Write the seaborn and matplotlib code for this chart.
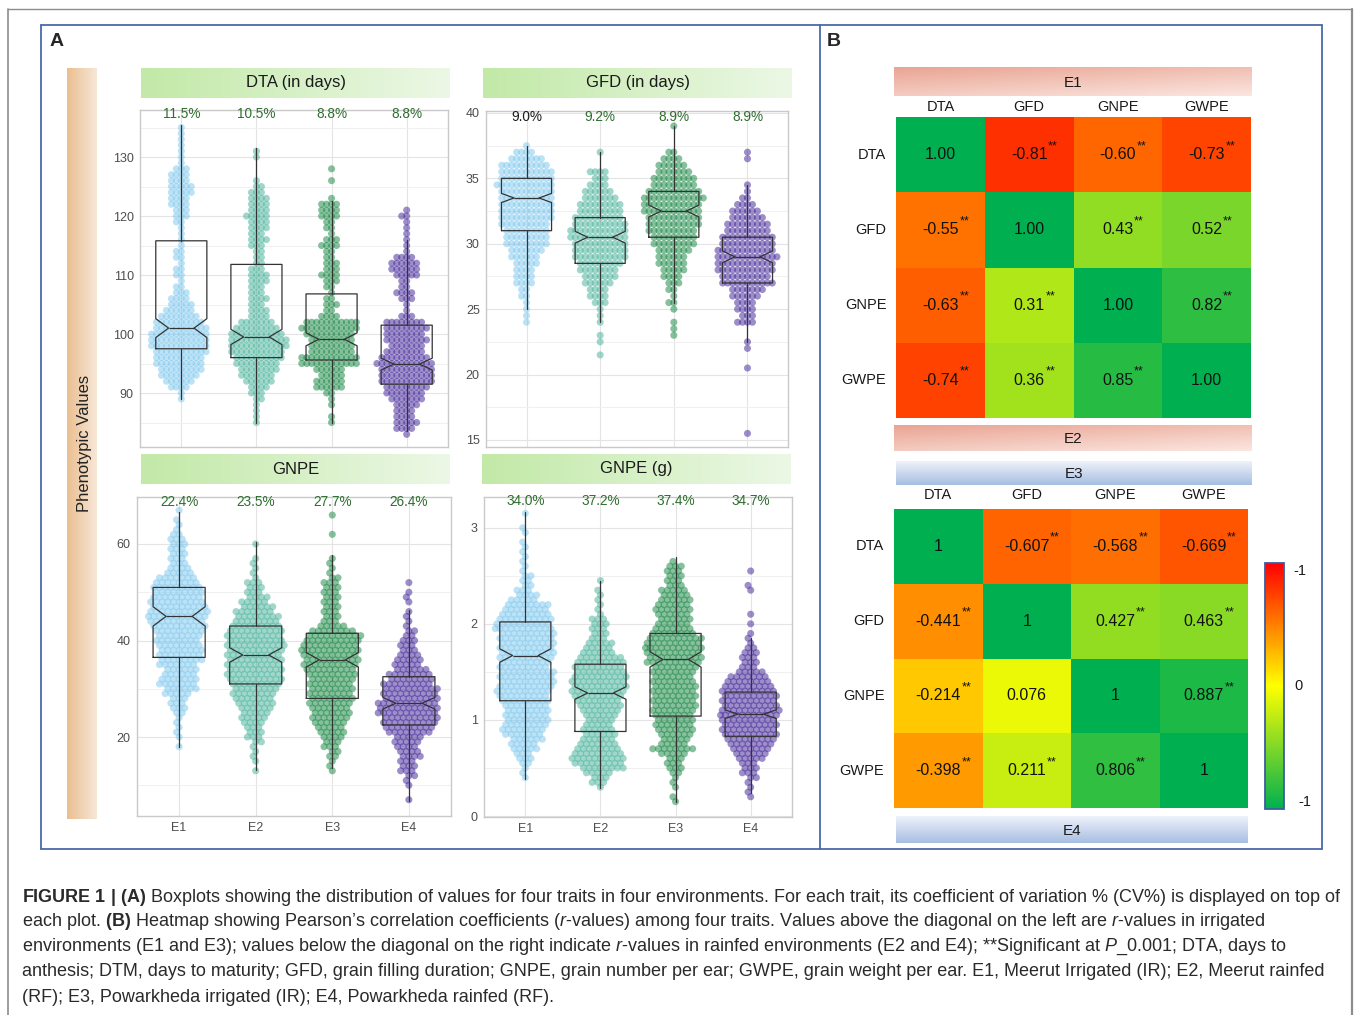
import numpy as np
import pandas as pd
import matplotlib
matplotlib.use("Agg")
import matplotlib.pyplot as plt
import seaborn as sns
from matplotlib.colors import LinearSegmentedColormap, Normalize
from matplotlib.ticker import MultipleLocator, FixedLocator
from matplotlib.lines import Line2D
from matplotlib.cm import ScalarMappable
import matplotlib.transforms as mtransforms

# ------------------------------------------------------------------ data
envs = ["E1", "E2", "E3", "E4"]
traits = ["DTA", "GFD", "GNPE", "GWPE"]

# DTA (days): number of genotypes at each day, starting at dta_start
dta_start = [89, 85, 85, 83]
dta_e1 = [1, 1, 4, 6, 8, 9, 10, 10, 11, 12, 12, 12, 11, 10, 8, 6, 5, 4, 3, 2,
          1, 2, 2, 1, 2, 2, 1, 1, 1, 1, 2, 3, 3, 4, 4, 5, 5, 4, 4, 3, 1, 1, 1, 1, 1, 1, 1]
dta_e2 = [1, 1, 1, 1, 2, 3, 4, 6, 7, 8, 9, 10, 11, 12, 12, 11, 9, 7, 4, 4,
          3, 4, 3, 3, 4, 4, 3, 2, 2, 2, 3, 4, 3, 4, 4, 5, 4, 4, 4, 3, 2, 1, 0, 0, 0, 1, 1]
dta_e3 = [1, 1, 0, 1, 1, 2, 6, 6, 5, 6, 12, 12, 9, 9, 9, 10, 12, 11, 4, 2,
          3, 2, 1, 2, 3, 4, 3, 3, 2, 2, 4, 3, 1, 2, 2, 4, 4, 4, 1, 0, 0, 1, 0, 1]
dta_e4 = [1, 4, 5, 4, 4, 5, 7, 8, 9, 11, 11, 11, 12, 10, 8, 7, 9, 8, 9, 8,
          3, 1, 1, 3, 4, 2, 2, 5, 6, 6, 4, 1, 1, 1, 1, 1, 1, 2, 1]

# GFD (days, 0.5-day steps)
gfd_start = [24.0, 21.5, 23.0, 15.5]
gfd_e1 = [1, 1, 1, 1, 2, 2, 4, 4, 4, 5, 6, 7, 9, 9, 9, 10, 11, 11, 11, 11,
          11, 12, 11, 11, 10, 7, 4, 1]
gfd_e2 = [1, 0, 1, 1, 0, 1, 1, 1, 3, 4, 4, 6, 7, 8, 9, 11, 11, 11, 12, 12,
          11, 10, 9, 9, 7, 6, 4, 3, 4, 0, 0, 1]
gfd_e3 = [1, 1, 1, 0, 1, 2, 1, 2, 3, 4, 5, 6, 6, 7, 9, 9, 10, 11, 11, 12,
          12, 13, 11, 9, 9, 7, 6, 4, 2, 0, 0, 0, 1]
gfd_e4 = [1, 0, 0, 0, 0, 0, 0, 0, 0, 0, 1, 0, 0, 1, 1, 0, 0, 4, 3, 4,
          4, 6, 7, 11, 10, 12, 12, 13, 12, 11, 11, 9, 9, 7, 6, 4, 2, 1, 1, 0,
          0, 0, 1, 1]

# GNPE (grains per ear, 1-grain steps)
gnpe_start = [18, 13, 13, 7]
gnpe_e1 = [1, 0, 1, 1, 1, 1, 1, 2, 3, 3, 3, 5, 6, 7, 7, 6, 6, 7, 8, 8,
           8, 8, 8, 8, 9, 10, 10, 11, 11, 10, 10, 9, 9, 9, 8, 7, 5, 4, 3, 3,
           3, 3, 3, 3, 2, 1, 1, 1, 0, 1]
gnpe_e2 = [1, 0, 1, 1, 1, 1, 2, 3, 3, 3, 4, 5, 5, 6, 7, 7, 8, 8, 9, 10,
           10, 10, 10, 10, 10, 10, 11, 10, 10, 10, 9, 8, 8, 7, 6, 5, 4, 3, 3, 3,
           1, 1, 1, 1, 1, 0, 0, 1]
gnpe_e3 = [1, 1, 1, 2, 2, 3, 3, 4, 5, 5, 6, 7, 7, 7, 8, 8, 8, 8, 8, 8,
           9, 9, 10, 10, 10, 11, 10, 10, 10, 8, 5, 3, 3, 3, 3, 3, 3, 3, 3, 3,
           2, 1, 1, 1, 1, 0, 0, 0, 0, 1, 0, 0, 0, 1]
gnpe_e4 = [1, 0, 0, 1, 1, 2, 3, 3, 3, 4, 4, 4, 5, 5, 8, 9, 10, 10, 11, 11,
           11, 10, 10, 10, 9, 8, 8, 6, 5, 5, 4, 3, 3, 3, 2, 2, 1, 1, 1, 1,
           0, 1, 1, 1, 0, 1]

# GWPE (g per ear, 0.05 g steps)
gwpe_start = [0.40, 0.30, 0.15, 0.20]
gwpe_e1 = [1, 1, 1, 2, 3, 3, 5, 5, 6, 7, 8, 8, 8, 8, 8, 8, 9, 9, 10, 10,
           10, 10, 10, 9, 9, 10, 10, 10, 10, 10, 10, 11, 10, 10, 9, 8, 8, 5, 4, 3,
           2, 2, 2, 1, 1, 1, 1, 1, 1, 1, 0, 1, 1, 0, 0, 1]
gwpe_e2 = [1, 3, 3, 5, 8, 9, 10, 9, 8, 7, 6, 6, 6, 5, 5, 6, 7, 8, 8, 9,
           10, 10, 10, 10, 9, 9, 9, 8, 6, 5, 5, 3, 3, 3, 3, 3, 1, 1, 1, 1,
           1, 1, 0, 1]
gwpe_e3 = [1, 1, 0, 1, 1, 1, 2, 3, 3, 3, 5, 8, 5, 5, 6, 7, 7, 7, 7, 8,
           8, 8, 8, 8, 8, 8, 7, 8, 8, 10, 10, 10, 11, 10, 10, 8, 7, 6, 6, 6,
           7, 6, 6, 5, 5, 3, 3, 3, 3, 3, 1]
gwpe_e4 = [1, 1, 1, 1, 2, 3, 3, 3, 5, 6, 7, 8, 9, 10, 10, 10, 10, 11, 11, 10,
           10, 10, 10, 9, 8, 7, 5, 3, 3, 3, 3, 2, 1, 1, 1, 0, 1, 0, 1, 0,
           0, 0, 0, 1, 1, 0, 0, 1]

# box statistics
dta_q1 = [97.5, 96.0, 95.6, 91.5]
dta_med = [101.0, 99.5, 99.1, 94.9]
dta_q3 = [115.8, 111.8, 106.8, 101.5]
dta_lo = [89.0, 85.0, 85.0, 83.5]
dta_hi = [135.5, 131.5, 122.5, 116.0]
dta_notch = [1.6, 1.3, 1.1, 1.0]

gfd_q1 = [31.0, 28.5, 30.5, 27.0]
gfd_med = [33.5, 30.5, 32.5, 29.0]
gfd_q3 = [35.0, 32.0, 34.0, 30.5]
gfd_lo = [25.0, 24.0, 25.5, 22.5]
gfd_hi = [37.5, 37.0, 39.0, 34.5]
gfd_notch = [0.35, 0.45, 0.45, 0.45]

gnpe_q1 = [36.5, 31.0, 28.0, 22.5]
gnpe_med = [45.0, 37.0, 36.0, 27.0]
gnpe_q3 = [51.0, 43.0, 41.5, 32.5]
gnpe_lo = [18.0, 13.2, 13.6, 6.8]
gnpe_hi = [66.6, 60.4, 57.7, 46.3]
gnpe_notch = [2.0, 1.5, 1.5, 1.2]

gwpe_q1 = [1.20, 0.88, 1.04, 0.83]
gwpe_med = [1.67, 1.28, 1.63, 1.06]
gwpe_q3 = [2.02, 1.58, 1.90, 1.29]
gwpe_lo = [0.39, 0.29, 0.15, 0.24]
gwpe_hi = [3.16, 2.45, 2.70, 1.85]
gwpe_notch = [0.07, 0.065, 0.08, 0.045]

dta_cv = ["11.5%", "10.5%", "8.8%", "8.8%"]
gfd_cv = ["9.0%", "9.2%", "8.9%", "8.9%"]
gnpe_cv = ["22.4%", "23.5%", "27.7%", "26.4%"]
gwpe_cv = ["34.0%", "37.2%", "37.4%", "34.7%"]

# correlation matrices (rows/cols: DTA, GFD, GNPE, GWPE)
r_e1e2 = [[1.00, -0.81, -0.60, -0.73],
          [-0.55, 1.00, 0.43, 0.52],
          [-0.63, 0.31, 1.00, 0.82],
          [-0.74, 0.36, 0.85, 1.00]]
sig_e1e2 = [[0, 1, 1, 1], [1, 0, 1, 1], [1, 1, 0, 1], [1, 1, 1, 0]]
r_e3e4 = [[1, -0.607, -0.568, -0.669],
          [-0.441, 1, 0.427, 0.463],
          [-0.214, 0.076, 1, 0.887],
          [-0.398, 0.211, 0.806, 1]]
sig_e3e4 = [[0, 1, 1, 1], [1, 0, 1, 1], [1, 0, 0, 1], [1, 1, 1, 0]]

caption_lines = [
    r"$\mathbf{FIGURE\ 1\ |\ (A)}$ Boxplots showing the distribution of values for four traits in four environments. For each trait, its coefficient of variation % (CV%) is displayed on top of",
    r"each plot. $\mathbf{(B)}$ Heatmap showing Pearson’s correlation coefficients ($\mathit{r}$-values) among four traits. Values above the diagonal on the left are $\mathit{r}$-values in irrigated",
    r"environments (E1 and E3); values below the diagonal on the right indicate $\mathit{r}$-values in rainfed environments (E2 and E4); **Significant at $\mathit{P}$_0.001; DTA, days to",
    r"anthesis; DTM, days to maturity; GFD, grain filling duration; GNPE, grain number per ear; GWPE, grain weight per ear. E1, Meerut Irrigated (IR); E2, Meerut rainfed",
    r"(RF); E3, Powarkheda irrigated (IR); E4, Powarkheda rainfed (RF).",
]

# ------------------------------------------------------------------ style
sns.set_theme(style="white")
plt.rcParams['font.family'] = ['Liberation Sans', 'DejaVu Sans']
plt.rcParams['mathtext.fontset'] = 'custom'
plt.rcParams['mathtext.rm'] = 'Liberation Sans'
plt.rcParams['mathtext.it'] = 'Liberation Sans:italic'
plt.rcParams['mathtext.bf'] = 'Liberation Sans:bold'

W, H = 1358, 1015
fig = plt.figure(figsize=(W / 100, H / 100), dpi=100)
fig.patch.set_facecolor('white')


def rect(l, t, r, b):
    return [l / W, 1 - b / H, (r - l) / W, (b - t) / H]


def fx(x):
    return x / W


def fy(y):
    return 1 - y / H


point_colors = ["#7bc6ee", "#44b199", "#0f823c", "#3c1f94"]
box_col = "#333333"


def long_df(starts, step, count_lists):
    parts = []
    for env, s, cnt in zip(envs, starts, count_lists):
        vals = np.round(s + step * np.arange(len(cnt)), 3)
        parts.append(pd.DataFrame({"env": env, "value": np.repeat(vals, cnt)}))
    return pd.concat(parts, ignore_index=True)


def gradient_axes(r, c0, c1, mode="h"):
    a = fig.add_axes(rect(*r))
    cm = LinearSegmentedColormap.from_list("g", [c0, c1])
    yy, xx = np.mgrid[0:1:64j, 0:1:256j]
    if mode == "h":
        g = xx
    elif mode == "v":
        g = yy
    else:
        g = 0.6 * yy + 0.4 * xx
    a.imshow(g, cmap=cm, aspect="auto", extent=[0, 1, 0, 1], origin="upper",
             vmin=0, vmax=1, interpolation="bilinear")
    a.set_axis_off()
    return a


panels = [
    dict(title="DTA (in days)", df=long_df(dta_start, 1, [dta_e1, dta_e2, dta_e3, dta_e4]),
         q1=dta_q1, med=dta_med, q3=dta_q3, lo=dta_lo, hi=dta_hi, notch=dta_notch,
         ylim=(80.85, 137.97), yticks=[90, 100, 110, 120, 130], minor=5,
         axpx=(140, 110, 448, 447), strip=(141, 68, 450, 98), cv=dta_cv,
         cvcol=["#2f6e2f"] * 4, cvy=0.988, xlab=False, msize=3.4),
    dict(title="GFD (in days)", df=long_df(gfd_start, 0.5, [gfd_e1, gfd_e2, gfd_e3, gfd_e4]),
         q1=gfd_q1, med=gfd_med, q3=gfd_q3, lo=gfd_lo, hi=gfd_hi, notch=gfd_notch,
         ylim=(14.46, 40.15), yticks=[15, 20, 25, 30, 35, 40], minor=2.5,
         axpx=(486, 111, 788, 447), strip=(483, 68, 792, 98), cv=gfd_cv,
         cvcol=["#1a1a1a"] + ["#2f6e2f"] * 3, cvy=0.982, xlab=False, msize=3.4),
    dict(title="GNPE", df=long_df(gnpe_start, 1, [gnpe_e1, gnpe_e2, gnpe_e3, gnpe_e4]),
         q1=gnpe_q1, med=gnpe_med, q3=gnpe_q3, lo=gnpe_lo, hi=gnpe_hi, notch=gnpe_notch,
         ylim=(3.63, 69.74), yticks=[20, 40, 60], minor=10,
         axpx=(137, 497, 451, 816), strip=(141, 454, 450, 484), cv=gnpe_cv,
         cvcol=["#2f6e2f"] * 4, cvy=0.984, xlab=True, msize=3.9),
    dict(title="GNPE (g)", df=long_df(gwpe_start, 0.05, [gwpe_e1, gwpe_e2, gwpe_e3, gwpe_e4]),
         q1=gwpe_q1, med=gwpe_med, q3=gwpe_q3, lo=gwpe_lo, hi=gwpe_hi, notch=gwpe_notch,
         ylim=(-0.01, 3.32), yticks=[0, 1, 2, 3], minor=0.5,
         axpx=(484, 497, 792, 817), strip=(482, 454, 791, 484), cv=gwpe_cv,
         cvcol=["#2f6e2f"] * 4, cvy=0.987, xlab=True, msize=3.9),
]

swarm_axes = []
for p in panels:
    ax = fig.add_axes(rect(*p["axpx"]))
    sns.swarmplot(data=p["df"], x="env", y="value", hue="env", order=envs, hue_order=envs,
                  palette=point_colors, size=p["msize"], alpha=0.5, linewidth=0, legend=False,
                  ax=ax, warn_thresh=1.0, zorder=2)
    stats = []
    for i in range(4):
        stats.append(dict(med=p["med"][i], q1=p["q1"][i], q3=p["q3"][i],
                          whislo=p["lo"][i], whishi=p["hi"][i],
                          cilo=p["med"][i] - p["notch"][i], cihi=p["med"][i] + p["notch"][i],
                          fliers=[]))
    lp = dict(color=box_col, lw=0.9)
    ax.bxp(stats, positions=range(4), widths=0.68, shownotches=True, showfliers=False,
           showcaps=False, boxprops=lp, whiskerprops=lp, medianprops=lp,
           manage_ticks=False, zorder=3)
    ax.set_xlim(-0.55, 3.55)
    ax.set_ylim(*p["ylim"])
    ax.set_xlabel("")
    ax.set_ylabel("")
    ax.set_xticks(range(4))
    ax.set_xticklabels(envs if p["xlab"] else [""] * 4)
    ax.yaxis.set_major_locator(FixedLocator(p["yticks"]))
    ax.yaxis.set_minor_locator(MultipleLocator(p["minor"]))
    ax.set_axisbelow(True)
    ax.grid(True, which="major", color="#e4e4e4", lw=0.8)
    ax.grid(True, which="minor", axis="y", color="#f0f0f0", lw=0.7)
    ax.tick_params(axis="both", which="major", length=2.5, width=0.7, color="#b5b5b5",
                   labelcolor="#4d4d4d", labelsize=9, pad=2)
    ax.tick_params(axis="y", which="minor", length=0)
    for s in ax.spines.values():
        s.set_color("#c9c9c9")
        s.set_linewidth(1.0)
    tr = mtransforms.blended_transform_factory(ax.transData, ax.transAxes)
    for i in range(4):
        ax.text(i, p["cvy"], p["cv"][i], transform=tr, ha="center", va="center",
                fontsize=9.8, color=p["cvcol"][i], zorder=5)
    sa = gradient_axes(p["strip"], "#c2e9a7", "#ecf8e6", "h")
    sa.text(0.5, 0.5, p["title"], ha="center", va="center", fontsize=12,
            color="#1a1a1a", transform=sa.transAxes)
    swarm_axes.append(ax)

# y-axis strip label
oa = gradient_axes((67, 68, 97, 819), "#eabf90", "#f7e7d8", "h")
fig.text(fx(84), fy(443), "Phenotypic Values", rotation=90, ha="center", va="center",
         fontsize=12, color="#222222")

# ------------------------------------------------------------------ heatmaps
heat_cmap = LinearSegmentedColormap.from_list("ryg", ["#ff0000", "#ffff00", "#00b050"])


def draw_heat(r, mat, stars, fmt, toppad):
    ax = fig.add_axes(rect(*r))
    sns.heatmap(np.array(mat, dtype=float), cmap=heat_cmap, vmin=-1, vmax=1, cbar=False,
                ax=ax, xticklabels=traits, yticklabels=traits, linewidths=0)
    ax.xaxis.tick_top()
    ax.set_xticklabels(traits, rotation=0)
    ax.set_yticklabels(traits, rotation=0)
    ax.tick_params(axis="x", length=0, pad=toppad, labelsize=10.5, labelcolor="#1a1a1a")
    ax.tick_params(axis="y", length=0, pad=7, labelsize=10.5, labelcolor="#1a1a1a")
    ax.set_xlabel("")
    ax.set_ylabel("")
    for i in range(4):
        for j in range(4):
            t = ax.text(j + 0.5, i + 0.5, fmt(mat[i][j], i == j), ha="center", va="center",
                        fontsize=11.5, color="#111111")
            if stars[i][j]:
                ax.annotate("**", xy=(1, 1), xycoords=t, xytext=(0.5, -3.5),
                            textcoords="offset points", ha="left", va="bottom",
                            fontsize=9, color="#111111")
    return ax


draw_heat((896, 117, 1251, 418), r_e1e2, sig_e1e2, lambda v, d: f"{v:.2f}", 2)
draw_heat((894, 509, 1248, 808), r_e3e4, sig_e3e4,
          lambda v, d: "1" if d else f"{v:.3f}", 5)

for (r, c0, c1, mode, lab) in [
        ((894, 67, 1252, 96), "#e9a391", "#fbe6e0", "d", "E1"),
        ((894, 425, 1252, 451), "#e9a391", "#fbe6e0", "d", "E2"),
        ((896, 461, 1252, 485), "#eef2fa", "#a7bee3", "v", "E3"),
        ((896, 816, 1248, 843), "#eef2fa", "#a7bee3", "v", "E4")]:
    a = gradient_axes(r, c0, c1, mode)
    a.text(0.5, 0.45, lab, ha="center", va="center", fontsize=11, color="#1a1a1a",
           transform=a.transAxes)

# colour bar
cax = fig.add_axes(rect(1265, 563, 1284, 809))
cb = fig.colorbar(ScalarMappable(norm=Normalize(-1, 1), cmap=heat_cmap.reversed()), cax=cax)
cb.set_ticks([])
cb.outline.set_edgecolor("#3d5d9d")
cb.outline.set_linewidth(1.3)
for (xx, yy, s) in [(1.5, 0.967, "-1"), (1.55, 0.50, "0"), (1.75, 0.028, "-1")]:
    cax.text(xx, yy, s, transform=cax.transAxes, ha="left", va="center", fontsize=10.5,
             color="#1a1a1a")

# ------------------------------------------------------------------ frames and labels
def fline(x0, y0, x1, y1, color, lw):
    fig.add_artist(Line2D([fx(x0), fx(x1)], [fy(y0), fy(y1)], color=color, lw=lw,
                          transform=fig.transFigure))


fline(8, 9, 1352, 9, "#8c8c8c", 1.0)
fline(8, 9, 8, 1015, "#8c8c8c", 1.2)
fline(1352, 9, 1352, 1015, "#8c8c8c", 1.6)
blue = "#4a6aa8"
fline(41, 25, 1322, 25, blue, 1.3)
fline(41, 849, 1322, 849, blue, 1.3)
fline(41, 25, 41, 849, blue, 1.3)
fline(820, 25, 820, 849, blue, 1.3)
fline(1322, 25, 1322, 849, blue, 1.3)

fig.text(fx(57), fy(42), "A", ha="center", va="center", fontsize=14, fontweight="bold")
fig.text(fx(834), fy(42), "B", ha="center", va="center", fontsize=14, fontweight="bold")

for k, line in enumerate(caption_lines):
    fig.text(fx(22), fy(897 + 25 * k), line, ha="left", va="center", fontsize=13.0,
             color="#2a2a2a")

# ------------------------------------------------------------------ freeze swarm layout
fig.canvas.draw()
for ax in swarm_axes:
    for coll in ax.collections:
        if "draw" in coll.__dict__:
            del coll.draw
        coll.set_sizes([26])

fig.savefig("out.png", dpi=100, facecolor="white")
